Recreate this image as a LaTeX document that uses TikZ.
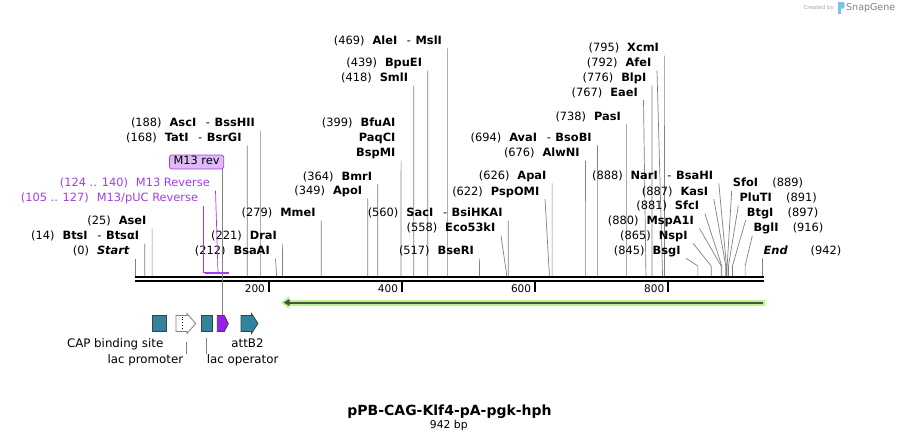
\documentclass[tikz,border=0pt]{standalone}
\usepackage{fontspec}
\setmainfont{DejaVu Sans}
\usetikzlibrary{arrows.meta}

\definecolor{cutgray}{RGB}{128,128,128}
\definecolor{featteal}{RGB}{49,132,155}
\definecolor{featpurple}{RGB}{155,30,240}
\definecolor{primerpurple}{RGB}{165,60,235}
\definecolor{primerfill}{RGB}{222,186,247}
\definecolor{glowgreen}{RGB}{185,245,135}
\definecolor{olivedark}{RGB}{72,82,62}
\definecolor{logoblue}{RGB}{120,195,235}

\newcommand{\enz}[2]{(#1)\hspace{0.7em}\textbf{#2}}
\newcommand{\andenz}[1]{\hspace{0.85em}-\hspace{0.4em}\textbf{#1}}
\newcommand{\enzr}[2]{\textbf{#2}\hspace{1.25em}(#1)}

\tikzset{
  lbl/.style={inner xsep=0pt,inner ysep=1.2pt,text height=8.2pt,text depth=2.4pt,
    font=\fontsize{11.4}{13}\selectfont,anchor=east},
  lblr/.style={lbl,anchor=west},
  featlbl/.style={lbl,font=\fontsize{11.8}{13}\selectfont},
  cut/.style={draw=cutgray,line width=0.7pt},
  seqline/.style={line width=2.3pt},
  tick/.style={line width=1.8pt},
  scl/.style={inner sep=0pt,anchor=east,font=\fontsize{10.5}{12}\selectfont},
  primerlbl/.style={lbl,text=primerpurple},
  primerline/.style={draw=primerpurple,line width=0.7pt},
  primerbox/.style={draw=primerpurple,fill=primerfill,line width=0.8pt,rounded corners=2.5pt,
    inner xsep=4pt,inner ysep=1.7pt,text height=8.2pt,text depth=2.4pt,
    font=\fontsize{11.4}{13}\selectfont},
  featbox/.style={draw=black!75,line width=0.8pt,fill=featteal},
}

\begin{document}
\begin{tikzpicture}[x=1pt,y=-1pt]
\useasboundingbox (0,0) rectangle (899,442);

% sites on the sequence
\foreach \p in {0,14,25,105,124,127,140,168,188,200,212,221,279,349,364,399,400,418,439,469,517,558,560,600,622,626,676,694,738,767,776,792,795,800,845,865,880,881,887,888,889,891,897,916,942}
  \coordinate (c\p) at ({135.5+0.6655*\p},276);

% sequence and ruler
\draw[seqline] (135,277.3) -- (764,277.3);
\draw[seqline] (135,281.3) -- (764,281.3);
\foreach \t in {200,400,600,800}{
  \draw[tick] ([yshift=-6pt]c\t) -- ([yshift=-16pt]c\t);
  \node[scl] (n\t) at ([xshift=-3.5pt,yshift=-13pt]c\t) {\t};
}

% enzymes, left
\node[lbl] (start) at (130,252) {(0)\hspace{0.7em}\textbf{\textit{Start}}};
\draw[cut] ([xshift=5.5pt]start.south east) -- (c0);
\node[lbl] (btsi) at (139.3,237) {\enz{14}{BtsI}\andenz{BtsαI}};
\draw[cut] ([xshift=5.5pt]btsi.south east) -- (c14);
\node[lbl] (asei) at (146.6,222) {\enz{25}{AseI}};
\draw[cut] ([xshift=5.5pt]asei.south east) -- (c25);
\node[lbl] (tati) at (241.8,139) {\enz{168}{TatI}\andenz{BsrGI}};
\draw[cut] ([xshift=5.5pt]tati.south east) -- (c168);
\node[lbl] (asci) at (255.1,124) {\enz{188}{AscI}\andenz{BssHII}};
\draw[cut] ([xshift=5.5pt]asci.south east) -- (c188);
\node[lbl] (bsaai) at (270,252) {\enz{212}{BsaAI}};
\draw[cut] ([xshift=5.5pt]bsaai.south east) -- (c212);
\node[lbl] (drai) at (277.1,237) {\enz{221}{DraI}};
\draw[cut] ([xshift=5.5pt]drai.south east) -- (c221);
\node[lbl] (mmei) at (315.7,214) {\enz{279}{MmeI}};
\draw[cut] ([xshift=5.5pt]mmei.south east) -- (c279);

% enzymes, middle
\node[lbl] (apoi) at (362.3,191.7) {\enz{349}{ApoI}};
\draw[cut] ([xshift=5.5pt]apoi.south east) -- (c349);
\node[lbl] (bmri) at (372.2,177.3) {\enz{364}{BmrI}};
\draw[cut] ([xshift=5.5pt]bmri.south east) -- (c364);
\node[lbl] (bfuai) at (395.6,124) {\enz{399}{BfuAI}};
\node[lbl] (paqci) at (395.6,139) {\textbf{PaqCI}};
\node[lbl] (bspmi) at (395.6,154) {\textbf{BspMI}};
\draw[cut] ([xshift=5.5pt]bspmi.south east) -- (c399);
\node[lbl] (smli) at (408.2,79) {\enz{418}{SmlI}};
\draw[cut] ([xshift=5.5pt]smli.south east) -- (c418);
\node[lbl] (bpuei) at (422.2,64) {\enz{439}{BpuEI}};
\draw[cut] ([xshift=5.5pt]bpuei.south east) -- (c439);
\node[lbl] (alei) at (442.1,41.7) {\enz{469}{AleI}\andenz{MslI}};
\draw[cut] ([xshift=5.5pt]alei.south east) -- (c469);
\node[lbl] (bseri) at (474.1,251.7) {\enz{517}{BseRI}};
\draw[cut] ([xshift=5.5pt]bseri.south east) -- (c517);
\node[lbl] (eco) at (495.5,229) {\enz{558}{Eco53kI}};
\draw[cut] ([xshift=5.5pt]eco.south east) -- (c558);
\node[lbl] (saci) at (502.7,214) {\enz{560}{SacI}\andenz{BsiHKAI}};
\draw[cut] ([xshift=5.5pt]saci.south east) -- (c560);
\node[lbl] (pspomi) at (539.5,192.3) {\enz{622}{PspOMI}};
\draw[cut] ([xshift=5.5pt]pspomi.south east) -- (c622);
\node[lbl] (apai) at (546.6,176.7) {\enz{626}{ApaI}};
\draw[cut] ([xshift=5.5pt]apai.south east) -- (c626);
\node[lbl] (alwni) at (579.9,154) {\enz{676}{AlwNI}};
\draw[cut] ([xshift=5.5pt]alwni.south east) -- (c676);
\node[lbl] (avai) at (591.9,138.7) {\enz{694}{AvaI}\andenz{BsoBI}};
\draw[cut] ([xshift=5.5pt]avai.south east) -- (c694);
\node[lbl] (pasi) at (621.1,117.3) {\enz{738}{PasI}};
\draw[cut] ([xshift=5.5pt]pasi.south east) -- (c738);
\node[lbl] (eaei) at (638,93.3) {\enz{767}{EaeI}};
\draw[cut] ([xshift=5.5pt]eaei.south east) -- (c767);
\node[lbl] (blpi) at (646.5,79) {\enz{776}{BlpI}};
\draw[cut] ([xshift=5.5pt]blpi.south east) -- (c776);
\node[lbl] (afei) at (651.5,64) {\enz{792}{AfeI}};
\draw[cut] ([xshift=5.5pt]afei.south east) -- (c792);
\node[lbl] (xcmi) at (659.1,49) {\enz{795}{XcmI}};
\draw[cut] ([xshift=5.5pt]xcmi.south east) -- (c795);

% enzymes, right
\node[lbl] (nari) at (713.3,176.7) {\enz{888}{NarI}\andenz{BsaHI}};
\draw[cut] ([xshift=5.5pt]nari.south east) -- ([yshift=10pt]c888) -- (c888);
\node[lbl] (kasi) at (708.3,192.3) {\enz{887}{KasI}};
\draw[cut] ([xshift=5.5pt]kasi.south east) -- ([yshift=10pt]c887) -- (c887);
\node[lbl] (sfci) at (699.3,206.7) {\enz{881}{SfcI}};
\draw[cut] ([xshift=5.5pt]sfci.south east) -- ([yshift=10pt]c881) -- (c881);
\node[lbl] (mspa) at (694,221.7) {\enz{880}{MspA1I}};
\draw[cut] ([xshift=5.5pt]mspa.south east) -- ([yshift=10pt]c880) -- (c880);
\node[lbl] (nspi) at (687.7,236.7) {\enz{865}{NspI}};
\draw[cut] ([xshift=5.5pt]nspi.south east) -- ([yshift=10pt]c865) -- (c865);
\node[lbl] (bsgi) at (680.7,251.7) {\enz{845}{BsgI}};
\draw[cut] ([xshift=5.5pt]bsgi.south east) -- ([yshift=10pt]c845) -- (c845);
\node[lblr] (sfoi) at (732.7,184) {\enzr{889}{SfoI}};
\draw[cut] ([xshift=-1pt]sfoi.south west) -- ([yshift=10pt]c889) -- (c889);
\node[lblr] (pluti) at (739.3,199) {\enzr{891}{PluTI}};
\draw[cut] ([xshift=-1pt]pluti.south west) -- ([yshift=10pt]c891) -- (c891);
\node[lblr] (btgi) at (746.7,213.3) {\enzr{897}{BtgI}};
\draw[cut] ([xshift=-1pt]btgi.south west) -- ([yshift=10pt]c897) -- (c897);
\node[lblr] (bgli) at (753.3,229) {\enzr{916}{BglI}};
\draw[cut] ([xshift=-1pt]bgli.south west) -- ([yshift=10pt]c916) -- (c916);
\node[lblr] (end) at (763.4,251.7) {\textbf{\textit{End}}\hspace{2em}(942)};
\draw[cut] ([xshift=-1pt]end.south west) -- (c942);

% primers
\coordinate (p105) at ([yshift=3.3pt]c105);
\coordinate (p127) at ([yshift=3.3pt]c127);
\coordinate (p124) at ([yshift=3.3pt]c124);
\coordinate (p140) at ([yshift=3.3pt]c140);
\draw[draw=primerpurple,line width=2pt] (p105) -- (p127);
\draw[draw=primerpurple,line width=2pt] (p124) -- (p140);
\node[primerlbl] (m13r) at (210,184) {(124 .. 140)\hspace{0.7em}M13 Reverse};
\draw[primerline] ([xshift=5.5pt]m13r.south east) -- (p124);
\node[primerlbl] (pucr) at (198.3,199) {(105 .. 127)\hspace{0.7em}M13/pUC Reverse};
\draw[primerline] ([xshift=5.5pt]pucr.south east) |- (p105);
\node[primerbox] (m13rev) at (196.6,162) {M13 rev};
\coordinate (m13f) at (222.3,315.5);
\draw[cut] (m13f |- m13rev.south) -- (m13f);

% features
\coordinate (gS) at (765,302.5);
\coordinate (gE) at (281,302.5);
\draw[glowgreen,line width=6pt,-{Triangle[length=8pt,width=12pt]}] (gS) -- (gE);
\draw[olivedark,line width=2pt,-{Triangle[length=6pt,width=6.5pt]}] ([xshift=-2pt]gS) -- ([xshift=2.5pt]gE);

\draw[featbox] (152.3,315.5) rectangle (166.7,331.5);
\draw[draw=black!50,line width=0.8pt,fill=white] (176,315.5) -- (187,315.5) -- (187,313.5)
  -- (195.7,323.5) -- (187,333.5) -- (187,331.5) -- (176,331.5) -- cycle;
\draw[dotted,line width=0.9pt] (182.5,316.5) -- (182.5,330.5);
\draw[featbox] (201.7,315.5) rectangle (212.7,331.5);
\draw[featbox,fill=featpurple] (217.3,315.5) -- (224.3,315.5) -- (228.3,323.5) -- (224.3,331.5)
  -- (217.3,331.5) -- cycle;
\draw[featbox] (241,315.5) -- (251.5,315.5) -- (251.5,313.5) -- (258,323.5) -- (251.5,333.5)
  -- (251.5,331.5) -- (241,331.5) -- cycle;

\node[featlbl] (capl) at (163.5,344.3) {CAP binding site};
\node[featlbl] (lacpl) at (183.3,361) {lac promoter};
\coordinate (lacp) at (186,341.7);
\draw[cut] (lacp) -- (lacp |- lacpl.north);
\node[featlbl,anchor=west] (lacol) at (206.7,361) {lac operator};
\coordinate (laco) at (206.7,338.3);
\draw[cut] (laco) -- (laco |- lacol.north);
\node[featlbl,anchor=center] (attl) at (247.5,344.3) {attB2};

% title
\node[font=\fontsize{14}{16}\selectfont\bfseries] (title) at (449.5,411.5) {pPB-CAG-Klf4-pA-pgk-hph};
\node[font=\fontsize{10.8}{12}\selectfont] (size) at (448.8,425.5) {942 bp};

% credit
\node[anchor=east,inner sep=0pt,text=black!35,font=\fontsize{5.5}{6}\selectfont] (made) at (834,7.5) {Created by};
\fill[logoblue,rounded corners=1.5pt] (838,2) rectangle (844.5,8.5);
\fill[logoblue] (838,2) rectangle (840.5,13.5);
\node[anchor=west,inner sep=0pt,text=black!50,font=\fontsize{9.5}{10}\selectfont] (sg) at (846,7.5) {SnapGene};
\end{tikzpicture}
\end{document}
